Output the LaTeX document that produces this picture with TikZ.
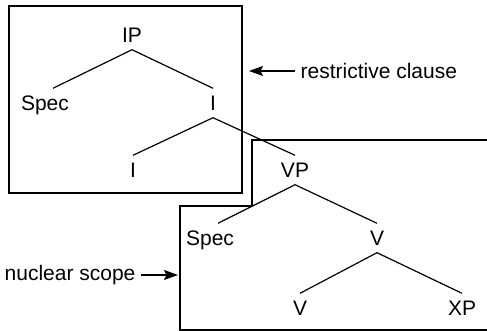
\documentclass[tikz,border=0pt]{standalone}
\usepackage{fontspec}
\setmainfont{Liberation Sans}
\usetikzlibrary{arrows.meta}
\begin{document}
\begin{tikzpicture}[x=0.5pt,y=-0.5pt,line width=0.6pt,
   cat/.style={font=\fontsize{10.5}{12}\selectfont,text height=7.5pt,text depth=0pt,inner xsep=1pt,inner ysep=3.3pt},
   lab/.style={font=\fontsize{10.5}{12}\selectfont,inner xsep=2.5pt},
   tip/.style={-{Stealth[length=7pt,width=5pt,inset=1.2pt]}}]
   \useasboundingbox (0,0) rectangle (487,331);
   % the two regions
   \draw (9,6) rectangle (242,193);
   \draw (487,140) -- (252,140) -- (252,206) -- (180,206) -- (180,330) -- (487,330);
   % the tree
   \node[cat] (ip)    at (132,35)  {IP};
   \node[cat] (spec1) at (45,103)  {Spec};
   \node[cat] (ibar)  at (213,103) {I};
   \node[cat] (i)     at (133,170) {I};
   \node[cat] (vp)    at (295,170) {VP};
   \node[cat] (spec2) at (210,238) {Spec};
   \node[cat] (vbar)  at (377,238) {V};
   \node[cat] (v)     at (300,308) {V};
   \node[cat] (xp)    at (462,308) {XP};
   \draw (ip.south) -- ([xshift=4pt]spec1.north);
   \draw (ip.south) -- (ibar.north);
   \draw (ibar.south) -- (i.north);
   \draw (ibar.south) -- (vp.north);
   \draw (vp.south) -- ([xshift=4pt]spec2.north);
   \draw (vp.south) -- (vbar.north);
   \draw (vbar.south) -- (v.north);
   \draw (vbar.south) -- (xp.north);
   % labels with arrows
   \node[lab,anchor=west] (rc) at (295,71) {restrictive clause};
   \coordinate (rctip) at (249,71);
   \draw[tip] (rc.west) -- (rctip);
   \node[lab,anchor=east] (ns) at (141,275) {nuclear scope};
   \coordinate (nstip) at (178,275);
   \draw[tip] (ns.east) -- (nstip);
\end{tikzpicture}
\end{document}
